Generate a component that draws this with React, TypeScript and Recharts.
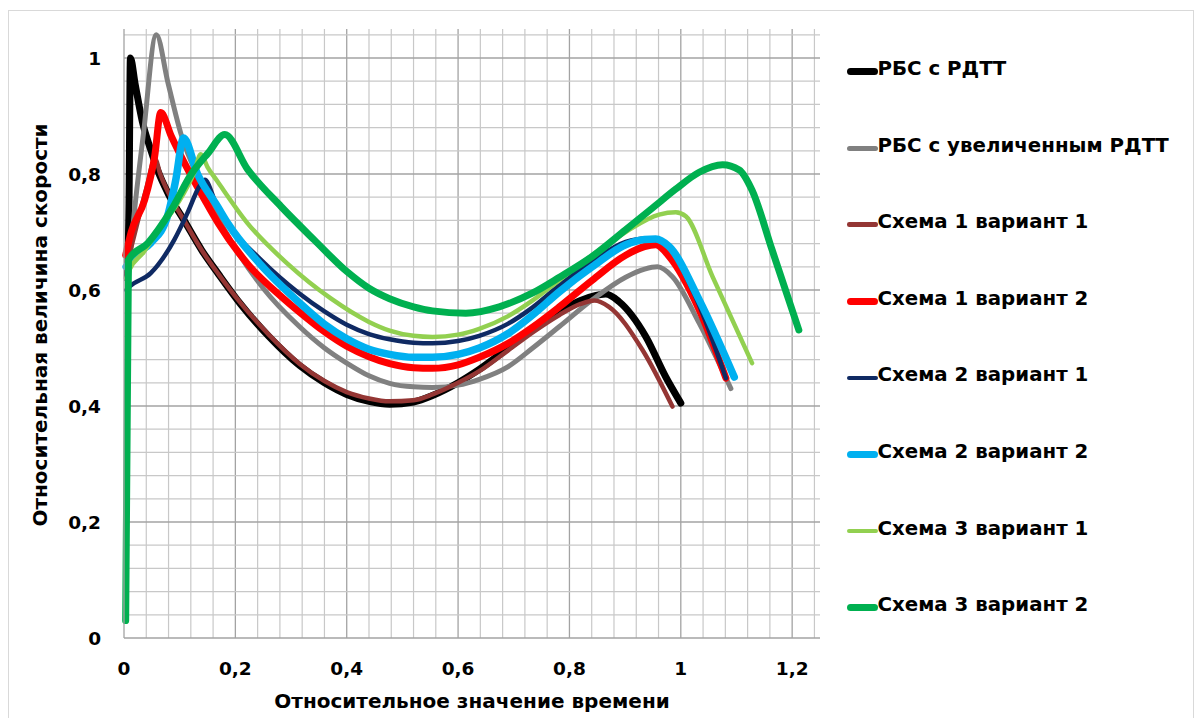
import { LineChart, Line, XAxis, YAxis, ReferenceLine } from "recharts";

type Pt = [number, number];

// values (x = relative time, y = relative speed)
const rbsRdtt: Pt[] = [
  [0.006, 0.62], [0.009, 0.75], [0.0115, 1.0], [0.02, 0.955], [0.033, 0.89], [0.048, 0.842],
  [0.061, 0.805], [0.08, 0.765], [0.108, 0.72], [0.14, 0.668], [0.17, 0.627], [0.21, 0.575],
  [0.26, 0.52], [0.315, 0.47], [0.36, 0.44], [0.4, 0.42], [0.44, 0.408], [0.477, 0.403],
  [0.52, 0.407], [0.554, 0.418], [0.6, 0.44], [0.638, 0.463], [0.69, 0.5], [0.734, 0.532],
  [0.78, 0.562], [0.82, 0.582], [0.865, 0.593], [0.889, 0.58], [0.937, 0.52], [0.973, 0.45], [1.0, 0.405],
];
const rbsBig: Pt[] = [
  [0.006, 0.6], [0.016, 0.709], [0.035, 0.87], [0.058, 1.04], [0.079, 0.957], [0.102, 0.87],
  [0.14, 0.78], [0.2, 0.672], [0.25, 0.603], [0.315, 0.537], [0.36, 0.5], [0.4, 0.474],
  [0.44, 0.452], [0.477, 0.439], [0.52, 0.433], [0.554, 0.432], [0.6, 0.436], [0.638, 0.446],
  [0.69, 0.468], [0.734, 0.5], [0.782, 0.537], [0.841, 0.583], [0.901, 0.622], [0.935, 0.636],
  [0.958, 0.64], [0.985, 0.623], [1.033, 0.543], [1.09, 0.43],
];
const s1v1: Pt[] = [
  [0.004, 0.64], [0.02, 0.7], [0.04, 0.775], [0.056, 0.826], [0.065, 0.8], [0.08, 0.767],
  [0.108, 0.72], [0.14, 0.668], [0.17, 0.627], [0.21, 0.577], [0.26, 0.523], [0.315, 0.473],
  [0.36, 0.443], [0.4, 0.424], [0.44, 0.413], [0.477, 0.408], [0.52, 0.41], [0.554, 0.42],
  [0.6, 0.44], [0.638, 0.46], [0.69, 0.496], [0.734, 0.527], [0.782, 0.557], [0.82, 0.576],
  [0.845, 0.582], [0.871, 0.571], [0.931, 0.497], [0.985, 0.399],
];
const s1v2: Pt[] = [
  [0.003, 0.66], [0.013, 0.7], [0.037, 0.755], [0.055, 0.83], [0.066, 0.906], [0.085, 0.865],
  [0.108, 0.82], [0.144, 0.757], [0.17, 0.714], [0.222, 0.645], [0.282, 0.589], [0.315, 0.562],
  [0.36, 0.528], [0.4, 0.503], [0.44, 0.485], [0.477, 0.473], [0.52, 0.466], [0.554, 0.465],
  [0.6, 0.471], [0.638, 0.484], [0.69, 0.508], [0.734, 0.536], [0.782, 0.571], [0.841, 0.617],
  [0.901, 0.66], [0.935, 0.675], [0.955, 0.678], [0.979, 0.658], [1.033, 0.566], [1.081, 0.448],
];
const s2v1: Pt[] = [
  [0.004, 0.6], [0.01, 0.606], [0.048, 0.629], [0.09, 0.686], [0.115, 0.735], [0.135, 0.778],
  [0.145, 0.79], [0.165, 0.75], [0.187, 0.714], [0.246, 0.652], [0.315, 0.594], [0.36, 0.563],
  [0.4, 0.54], [0.44, 0.524], [0.477, 0.515], [0.52, 0.509], [0.554, 0.508], [0.6, 0.512],
  [0.638, 0.521], [0.69, 0.542], [0.734, 0.57], [0.782, 0.608], [0.841, 0.65], [0.901, 0.683],
  [0.937, 0.689], [0.967, 0.683], [1.021, 0.6], [1.081, 0.448],
];
const s2v2: Pt[] = [
  [0.004, 0.64], [0.02, 0.66], [0.048, 0.681], [0.078, 0.727], [0.093, 0.79], [0.107, 0.862],
  [0.132, 0.8], [0.168, 0.744], [0.187, 0.714], [0.246, 0.643], [0.315, 0.578], [0.36, 0.541],
  [0.4, 0.516], [0.44, 0.498], [0.477, 0.489], [0.52, 0.484], [0.554, 0.484], [0.6, 0.489],
  [0.638, 0.5], [0.69, 0.525], [0.734, 0.557], [0.782, 0.597], [0.841, 0.64], [0.901, 0.678],
  [0.935, 0.687], [0.955, 0.688], [0.979, 0.675], [1.033, 0.583], [1.096, 0.45],
];
const s3v1: Pt[] = [
  [0.004, 0.62], [0.01, 0.635], [0.035, 0.665], [0.066, 0.709], [0.09, 0.74], [0.108, 0.768],
  [0.125, 0.8], [0.138, 0.834], [0.15, 0.812], [0.168, 0.787], [0.222, 0.715], [0.294, 0.645],
  [0.372, 0.585], [0.44, 0.545], [0.477, 0.53], [0.52, 0.521], [0.554, 0.519], [0.6, 0.523],
  [0.638, 0.533], [0.69, 0.555], [0.734, 0.582], [0.782, 0.617], [0.841, 0.66], [0.901, 0.7],
  [0.961, 0.73], [0.991, 0.734], [1.009, 0.727], [1.057, 0.623], [1.128, 0.474],
];
const s3v2: Pt[] = [
  [0.003, 0.03], [0.008, 0.652], [0.043, 0.681], [0.085, 0.738], [0.121, 0.8], [0.151, 0.836],
  [0.181, 0.868], [0.222, 0.808], [0.282, 0.744], [0.342, 0.686], [0.4, 0.632], [0.44, 0.603],
  [0.477, 0.585], [0.52, 0.571], [0.554, 0.564], [0.614, 0.56], [0.674, 0.571], [0.734, 0.595],
  [0.782, 0.622], [0.841, 0.658], [0.901, 0.704], [0.95, 0.742], [0.991, 0.774], [1.033, 0.803],
  [1.075, 0.816], [1.105, 0.807], [1.128, 0.772], [1.164, 0.669], [1.212, 0.531],
];

const xTicks = [0, 0.2, 0.4, 0.6, 0.8, 1, 1.2];
const yTicks = [0, 0.2, 0.4, 0.6, 0.8, 1];

const series = [
  { name: "РБС с РДТТ", pts: rbsRdtt, color: "#000000", width: 7 },
  { name: "РБС с увеличенным РДТТ", pts: rbsBig, color: "#808080", width: 5 },
  { name: "Схема 1 вариант 1", pts: s1v1, color: "#943634", width: 4.5 },
  { name: "Схема 1 вариант 2", pts: s1v2, color: "#ff0000", width: 7 },
  { name: "Схема 2 вариант 1", pts: s2v1, color: "#0f2a63", width: 4.5 },
  { name: "Схема 2 вариант 2", pts: s2v2, color: "#00b0f0", width: 7.5 },
  { name: "Схема 3 вариант 1", pts: s3v1, color: "#92d050", width: 4.5 },
  { name: "Схема 3 вариант 2", pts: s3v2, color: "#00b050", width: 7 },
];

// grid step 0.04, darker every 0.2
const gridVals = (n: number) => Array.from({ length: n }, (_, i) => Math.round((i + 1) * 4) / 100);
const xGrid = gridVals(31);
const yGrid = gridVals(26);
const isMajor = (v: number) => Math.round(v * 100) % 20 === 0;

const font = "'DejaVu Sans', Arial, sans-serif";
const fmt = (v: number) => String(v).replace(".", ",");

export default function App() {
  return (
    <div style={{ position: "relative", width: 1186, height: 710, fontFamily: font }}>
      <div
        style={{
          position: "absolute", left: 0, top: 2, width: 1186, height: 712,
          border: "1px solid #d9d9d9", boxSizing: "border-box",
        }}
      />
      <LineChart
        width={1186}
        height={708}
        margin={{ top: 21, right: 374, bottom: 8, left: 56 }}
      >
        <XAxis
          type="number"
          dataKey="x"
          domain={[0, 1.25]}
          ticks={xTicks}
          tickFormatter={fmt}
          height={70}
          tickSize={0}
          tickMargin={24}
          axisLine={{ stroke: "#a3a3a3", strokeWidth: 1.3 }}
          tick={{ fill: "#000", fontSize: 18.5, fontWeight: "bold", fontFamily: font }}
        />
        <YAxis
          type="number"
          domain={[0, 1.05]}
          ticks={yTicks}
          tickFormatter={fmt}
          width={60}
          tickSize={0}
          tickMargin={23}
          axisLine={{ stroke: "#a3a3a3", strokeWidth: 1.3 }}
          tick={{ fill: "#000", fontSize: 18.5, fontWeight: "bold", fontFamily: font }}
        />
        {xGrid.map((v) => (
          <ReferenceLine
            key={"gx" + v}
            x={v}
            stroke={isMajor(v) ? "#a3a3a3" : "#c8c8c8"}
            strokeWidth={isMajor(v) ? 1.3 : 1.2}
            zIndex={-100}
          />
        ))}
        {yGrid.map((v) => (
          <ReferenceLine
            key={"gy" + v}
            y={v}
            stroke={isMajor(v) ? "#a3a3a3" : "#c8c8c8"}
            strokeWidth={isMajor(v) ? 1.3 : 1.2}
            zIndex={-100}
          />
        ))}
        {series.map((s) => (
          <Line
            key={s.name}
            name={s.name}
            data={s.pts.map(([x, y]) => ({ x, y }))}
            dataKey="y"
            type="monotone"
            stroke={s.color}
            strokeWidth={s.width}
            strokeLinecap="round"
            strokeLinejoin="round"
            dot={false}
            activeDot={false}
            isAnimationActive={false}
          />
        ))}
      </LineChart>

      {/* axis titles */}
      <div
        style={{
          position: "absolute", left: 164, top: 681, width: 600, textAlign: "center",
          fontSize: 20, lineHeight: "24px", fontWeight: "bold", color: "#000",
        }}
      >
        Относительное значение времени
      </div>
      <div
        style={{
          position: "absolute", left: 32 - 260, top: 317 - 12, width: 520, height: 24,
          textAlign: "center", fontSize: 20, lineHeight: "24px", fontWeight: "bold",
          color: "#000", transform: "rotate(-90deg)", whiteSpace: "nowrap",
        }}
      >
        Относительная величина скорости
      </div>

      {/* legend */}
      {series.map((s, i) => (
        <div
          key={s.name}
          style={{
            position: "absolute", left: 838.5, top: 61 - 12 + i * 76.6,
            display: "flex", alignItems: "center", height: 24, whiteSpace: "nowrap",
          }}
        >
          <span
            style={{
              display: "inline-block", width: 31, height: s.width, marginTop: 5,
              borderRadius: s.width / 2, background: s.color,
            }}
          />
          <span style={{ fontSize: 19.8, lineHeight: "24px", fontWeight: "bold", color: "#000" }}>{s.name}</span>
        </div>
      ))}
    </div>
  );
}
